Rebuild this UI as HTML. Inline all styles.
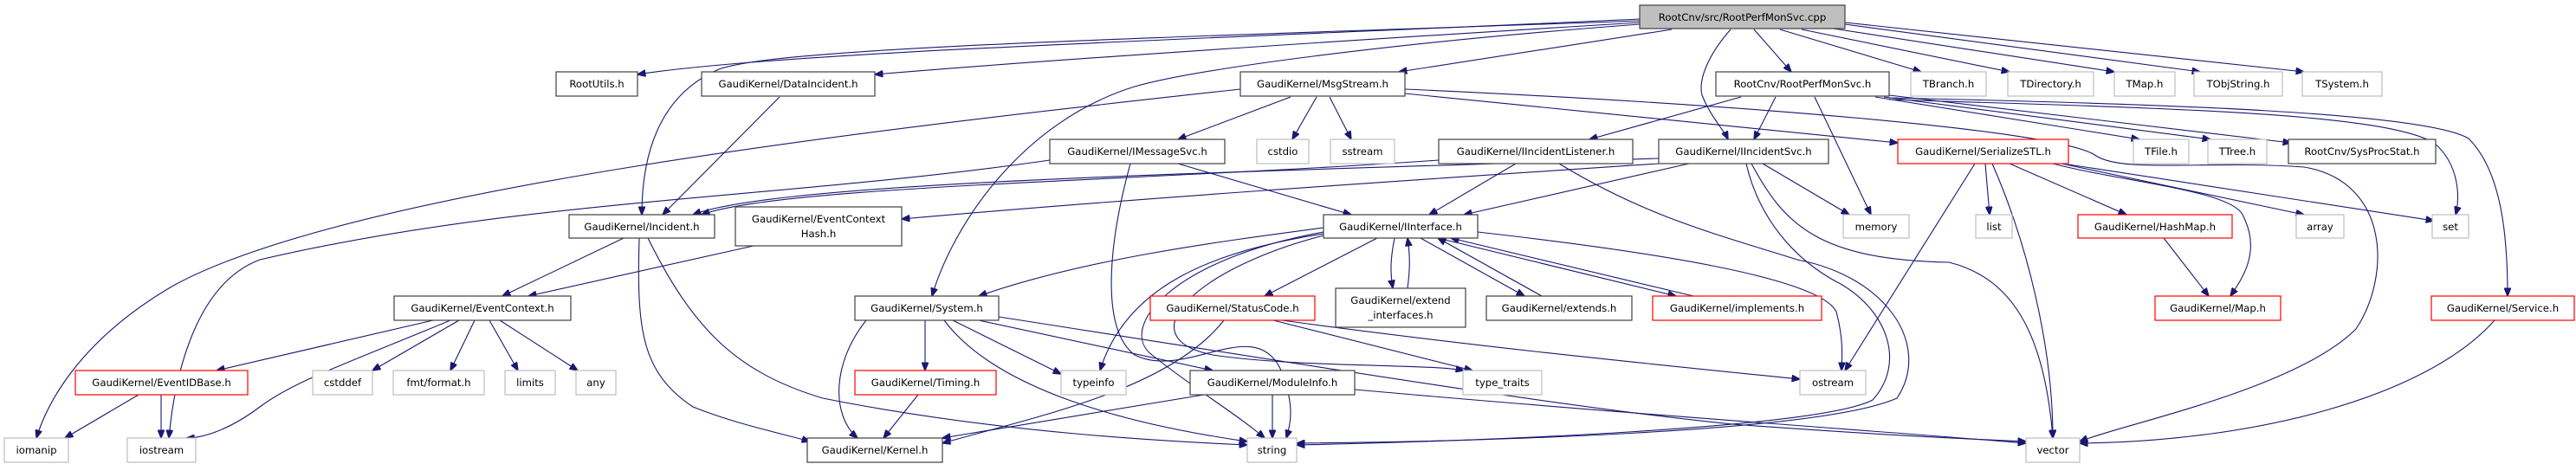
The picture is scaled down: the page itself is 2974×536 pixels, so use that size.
<!DOCTYPE html>
<html><head><meta charset="utf-8"><style>
html,body{margin:0;padding:0;background:#fff;}
svg{display:block;}
text{font-family:"DejaVu Sans","Liberation Sans",sans-serif;font-size:11.7px;fill:#000;text-anchor:middle;}
.b{fill:#fff;stroke:#404040;stroke-width:1.2;}
.g{fill:#fff;stroke:#bfbfbf;stroke-width:1.2;}
.r{fill:#fff;stroke:#ff0000;stroke-width:1.2;}
.e path{fill:none;stroke:#191970;stroke-width:1.1;marker-end:url(#a);}
</style></head><body>
<svg width="2974" height="536" viewBox="0 0 2974 536" xmlns="http://www.w3.org/2000/svg">
<defs><marker id="a" markerWidth="10" markerHeight="8" refX="9.5" refY="4" orient="auto" markerUnits="userSpaceOnUse"><path d="M0,0 L10,4 L0,8 z" fill="#191970" stroke="#191970"/></marker></defs>
<g class="e">
<path d="M1893,22 C1400,45 900,60 736,86"/>
<path d="M1893,24 C1300,45 900,55 830,80 C760,110 741,180 741,248"/>
<path d="M1893,26 C1500,50 1200,70 1010,86"/>
<path d="M1893,28 C1600,50 1380,80 1310,100 C1180,140 1100,260 1076,342"/>
<path d="M1930,34 L1615,83"/>
<path d="M2025,34 L2068,83"/>
<path d="M1998,34 C1975,60 1960,90 1965,110 C1975,135 1990,150 1995,161"/>
<path d="M2055,34 L2218,83"/>
<path d="M2080,34 L2320,83"/>
<path d="M2110,32 L2441,83"/>
<path d="M2130,28 L2540,83"/>
<path d="M2130,26 L2660,83"/>
<path d="M900,112 L765,248"/>
<path d="M1432,103 C1000,150 400,220 200,330 C80,400 50,480 42,506"/>
<path d="M1490,112 L1360,161"/>
<path d="M1520,112 L1492,161"/>
<path d="M1535,112 L1560,161"/>
<path d="M1622,108 L2191,165"/>
<path d="M1622,103 C2000,120 2380,150 2420,180 C2450,200 2550,185 2660,193 C2760,210 2760,320 2720,380 C2650,450 2450,490 2401,510"/>
<path d="M1212,185 C900,230 600,230 300,300 C220,330 200,450 195,506"/>
<path d="M1360,189 L1560,248"/>
<path d="M1305,189 C1280,280 1270,380 1310,410 C1370,440 1450,360 1480,430 C1495,470 1490,490 1485,506"/>
<path d="M1661,185 C1300,210 900,215 810,248"/>
<path d="M1750,189 L1650,248"/>
<path d="M1800,189 C1900,250 1980,270 2075,300 C2180,320 2230,400 2190,460 C2100,500 1700,510 1497,512"/>
<path d="M1915,183 C1400,200 900,210 800,248"/>
<path d="M1915,189 C1600,210 1300,230 1041,253"/>
<path d="M1950,189 L1690,248"/>
<path d="M2035,189 L2135,248"/>
<path d="M2016,189 C2030,250 2070,300 2125,328 C2180,360 2200,420 2162,462 C2100,495 1700,510 1497,514"/>
<path d="M2022,189 C2060,260 2100,300 2250,303 C2320,320 2360,380 2370,506"/>
<path d="M2010,112 L1835,161"/>
<path d="M2050,112 L2025,161"/>
<path d="M2095,112 L2160,248"/>
<path d="M2165,112 L2470,161"/>
<path d="M2175,112 L2552,161"/>
<path d="M2181,110 L2645,165"/>
<path d="M2181,115 C2500,125 2750,130 2810,165 C2840,190 2840,230 2835,248"/>
<path d="M2181,113 C2500,120 2800,130 2850,160 C2890,200 2895,280 2895,342"/>
<path d="M2280,189 L2130,428"/>
<path d="M2292,189 L2297,248"/>
<path d="M2300,189 C2340,280 2370,400 2370,506"/>
<path d="M2320,189 L2455,248"/>
<path d="M2370,189 C2450,210 2580,220 2590,250 C2610,290 2590,320 2575,342"/>
<path d="M2380,189 L2660,248"/>
<path d="M2388,190 L2810,255"/>
<path d="M2498,275 L2550,342"/>
<path d="M2880,370 C2800,460 2600,510 2401,512"/>
<path d="M720,275 L580,342"/>
<path d="M738,275 C735,380 740,430 800,470 C850,490 900,500 935,510"/>
<path d="M748,275 C800,380 850,430 950,460 C1150,500 1350,510 1440,514"/>
<path d="M870,284 L610,342"/>
<path d="M500,370 L250,428"/>
<path d="M520,370 C400,420 340,440 300,470 C260,500 230,506 215,506"/>
<path d="M530,370 L430,428"/>
<path d="M548,370 L520,428"/>
<path d="M565,370 L598,428"/>
<path d="M577,370 L667,428"/>
<path d="M160,456 L75,506"/>
<path d="M186,456 L186,506"/>
<path d="M1528,263 C1400,280 1250,300 1130,342"/>
<path d="M1590,275 L1460,342"/>
<path d="M1610,275 C1605,300 1605,315 1608,333"/>
<path d="M1625,333 C1628,310 1628,295 1625,275"/>
<path d="M1640,275 L1760,342"/>
<path d="M1780,342 L1660,275"/>
<path d="M1660,275 L1935,342"/>
<path d="M1955,342 L1675,275"/>
<path d="M1528,270 C1400,290 1300,330 1270,428"/>
<path d="M1706,268 C1900,290 2100,320 2120,360 C2128,390 2127,410 2126,428"/>
<path d="M1480,370 C1700,400 1900,420 2078,438"/>
<path d="M1413,370 C1350,450 1200,480 1088,512"/>
<path d="M1470,370 L1700,428"/>
<path d="M1528,268 C1350,300 1290,380 1330,410 C1380,450 1430,480 1460,506"/>
<path d="M1528,272 C1380,310 1300,390 1400,410 C1500,425 1650,420 1690,428"/>
<path d="M1000,370 C960,420 960,480 990,506"/>
<path d="M1068,370 L1068,428"/>
<path d="M1100,370 L1225,432"/>
<path d="M1090,370 C1150,450 1300,490 1440,510"/>
<path d="M1130,370 L1400,428"/>
<path d="M1153,366 C1500,420 1800,470 2000,490 C2200,505 2300,508 2339,510"/>
<path d="M1060,456 L1020,506"/>
<path d="M1390,456 L1088,506"/>
<path d="M1469,456 L1469,506"/>
<path d="M1564,450 C1900,480 2200,500 2339,512"/>
</g>
<g>
<rect x="1893" y="6" width="237" height="27" fill="#bfbfbf" stroke="#404040" stroke-width="1.2"/><text x="2011.5" y="24">RootCnv/src/RootPerfMonSvc.cpp</text>
<rect class="b" x="642" y="83" width="94" height="28"/><text x="689" y="101">RootUtils.h</text>
<rect class="b" x="810" y="83" width="200" height="28"/><text x="910" y="101">GaudiKernel/DataIncident.h</text>
<rect class="b" x="1432" y="83" width="190" height="28"/><text x="1527" y="101">GaudiKernel/MsgStream.h</text>
<rect class="b" x="1981" y="83" width="200" height="28"/><text x="2081" y="101">RootCnv/RootPerfMonSvc.h</text>
<rect class="g" x="2206" y="83" width="87" height="28"/><text x="2249.5" y="101">TBranch.h</text>
<rect class="g" x="2318" y="83" width="99" height="28"/><text x="2367.5" y="101">TDirectory.h</text>
<rect class="g" x="2441" y="83" width="70" height="28"/><text x="2476" y="101">TMap.h</text>
<rect class="g" x="2533" y="83" width="102" height="28"/><text x="2584" y="101">TObjString.h</text>
<rect class="g" x="2658" y="83" width="92" height="28"/><text x="2704" y="101">TSystem.h</text>

<rect class="b" x="1212" y="161" width="202" height="28"/><text x="1313" y="179">GaudiKernel/IMessageSvc.h</text>
<rect class="g" x="1451" y="161" width="60" height="28"/><text x="1481" y="179">cstdio</text>
<rect class="g" x="1536" y="161" width="74" height="28"/><text x="1573" y="179">sstream</text>
<rect class="b" x="1661" y="161" width="224" height="28"/><text x="1773" y="179">GaudiKernel/IIncidentListener.h</text>
<rect class="b" x="1915" y="161" width="196" height="28"/><text x="2013" y="179">GaudiKernel/IIncidentSvc.h</text>
<rect class="r" x="2191" y="161" width="197" height="28"/><text x="2289.5" y="179">GaudiKernel/SerializeSTL.h</text>
<rect class="g" x="2463" y="161" width="64" height="28"/><text x="2495" y="179">TFile.h</text>
<rect class="g" x="2549" y="161" width="68" height="28"/><text x="2583" y="179">TTree.h</text>
<rect class="b" x="2642" y="161" width="170" height="28"/><text x="2727" y="179">RootCnv/SysProcStat.h</text>

<rect class="b" x="657" y="248" width="168" height="27"/><text x="741" y="266">GaudiKernel/Incident.h</text>
<rect class="b" x="849" y="239" width="192" height="45"/><text x="945" y="257">GaudiKernel/EventContext</text><text x="945" y="274">Hash.h</text>
<rect class="b" x="1528" y="248" width="178" height="27"/><text x="1617" y="266">GaudiKernel/IInterface.h</text>
<rect class="g" x="2128" y="248" width="76" height="27"/><text x="2166" y="266">memory</text>
<rect class="g" x="2281" y="248" width="42" height="27"/><text x="2302" y="266">list</text>
<rect class="r" x="2399" y="248" width="178" height="27"/><text x="2488" y="266">GaudiKernel/HashMap.h</text>
<rect class="g" x="2651" y="248" width="55" height="27"/><text x="2678.5" y="266">array</text>
<rect class="g" x="2808" y="248" width="42" height="27"/><text x="2829" y="266">set</text>

<rect class="b" x="455" y="342" width="204" height="28"/><text x="557" y="360">GaudiKernel/EventContext.h</text>
<rect class="b" x="987" y="342" width="166" height="28"/><text x="1070" y="360">GaudiKernel/System.h</text>
<rect class="r" x="1328" y="342" width="190" height="28"/><text x="1423" y="360">GaudiKernel/StatusCode.h</text>
<rect class="b" x="1542" y="333" width="150" height="45"/><text x="1617" y="351">GaudiKernel/extend</text><text x="1617" y="368">_interfaces.h</text>
<rect class="b" x="1716" y="342" width="168" height="28"/><text x="1800" y="360">GaudiKernel/extends.h</text>
<rect class="r" x="1908" y="342" width="195" height="28"/><text x="2005.5" y="360">GaudiKernel/implements.h</text>
<rect class="r" x="2488" y="342" width="145" height="28"/><text x="2560.5" y="360">GaudiKernel/Map.h</text>
<rect class="r" x="2807" y="342" width="165" height="28"/><text x="2889.5" y="360">GaudiKernel/Service.h</text>

<rect class="r" x="87" y="428" width="199" height="28"/><text x="186.5" y="446">GaudiKernel/EventIDBase.h</text>
<rect class="g" x="361" y="428" width="69" height="28"/><text x="395.5" y="446">cstddef</text>
<rect class="g" x="454" y="428" width="105" height="28"/><text x="506.5" y="446">fmt/format.h</text>
<rect class="g" x="583" y="428" width="58" height="28"/><text x="612" y="446">limits</text>
<rect class="g" x="665" y="428" width="46" height="28"/><text x="688" y="446">any</text>
<rect class="r" x="987" y="428" width="163" height="28"/><text x="1068.5" y="446">GaudiKernel/Timing.h</text>
<rect class="g" x="1225" y="428" width="75" height="28"/><text x="1262.5" y="446">typeinfo</text>
<rect class="b" x="1374" y="428" width="190" height="28"/><text x="1469" y="446">GaudiKernel/ModuleInfo.h</text>
<rect class="g" x="1689" y="428" width="91" height="28"/><text x="1734.5" y="446">type_traits</text>
<rect class="g" x="2078" y="428" width="76" height="28"/><text x="2116" y="446">ostream</text>

<rect class="g" x="5" y="506" width="74" height="28"/><text x="42" y="524">iomanip</text>
<rect class="g" x="147" y="506" width="79" height="28"/><text x="186.5" y="524">iostream</text>
<rect class="b" x="932" y="506" width="156" height="28"/><text x="1010" y="524">GaudiKernel/Kernel.h</text>
<rect class="g" x="1440" y="506" width="57" height="28"/><text x="1468.5" y="524">string</text>
<rect class="g" x="2339" y="506" width="62" height="28"/><text x="2370" y="524">vector</text>
</g>
</svg>
</body></html>
